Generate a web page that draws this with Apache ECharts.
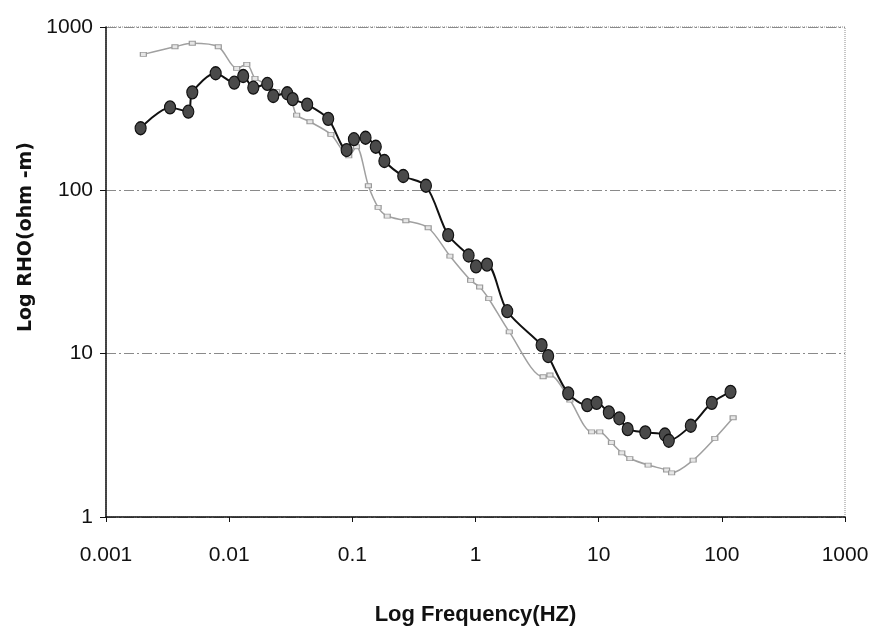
<!DOCTYPE html>
<html>
<head>
<meta charset="utf-8">
<script src="https://cdn.jsdelivr.net/npm/echarts@6/dist/echarts.min.js"></script>
<style>html,body{margin:0;padding:0;background:#fff}#c{width:872px;height:636px}</style>
</head>
<body>
<div id="c"></div>
<script>
// Black series (filled circles): frequency (Hz), apparent resistivity (ohm-m)
const blackFreq = [0.00191,0.00331,0.00466,0.00502,0.00777,0.0110,0.0130,0.0157,0.0204,0.0228,0.0296,0.0328,0.0430,0.0637,0.0899,0.103,0.128,0.155,0.182,0.259,0.396,0.600,0.879,1.01,1.24,1.81,3.44,3.89,5.66,8.07,9.62,12.1,14.7,17.2,23.9,34.5,37.1,56.0,82.9,117.6];
const blackRho  = [240,322,303,398,521,456,501,425,448,378,393,362,335,274,176.5,205.6,209.9,184.9,151.2,122.4,106.7,53.2,39.9,34.2,35.1,18.2,11.29,9.67,5.71,4.84,5.00,4.37,4.02,3.45,3.30,3.20,2.93,3.62,5.00,5.84];
// Gray series (small open markers)
const grayFreq = [0.00201,0.00363,0.00502,0.00816,0.0115,0.0139,0.0162,0.0195,0.0243,0.0316,0.0353,0.0453,0.0670,0.0935,0.108,0.135,0.162,0.192,0.272,0.413,0.620,0.913,1.08,1.28,1.88,3.54,4.02,5.84,8.76,10.2,12.7,15.4,17.9,25.2,35.6,39.1,58.5,87.7,123.5];
const grayRho  = [680,757,795,757,558,591,485,452,402,357,289,263,220,162.7,184.9,106.7,78.7,69.6,65.1,59.0,39.6,28.1,25.6,21.7,13.6,7.22,7.40,5.20,3.32,3.32,2.85,2.47,2.28,2.08,1.94,1.865,2.23,3.03,4.05];
const xTickValues = [0.001,0.01,0.1,1,10,100,1000];
const yTickValues = [1,10,100,1000];
const xTitle = 'Log Frequency(HZ)';
const yTitle = 'Log RHO(ohm -m)';

const pair = (xs, ys) => xs.map((x, i) => [x, ys[i]]);
const fmt = v => {
  const r = xTickValues.concat(yTickValues).find(t => Math.abs(Math.log10(t) - Math.log10(v)) < 1e-6);
  return r === undefined ? '' : String(r);
};
const labFont = {color:'#111', fontSize:21, fontFamily:"'Liberation Sans',Arial,sans-serif"};

const chart = echarts.init(document.getElementById('c'), null, {renderer:'canvas'});
chart.setOption({
  backgroundColor:'#fff',
  animation:false,
  grid:{left:106, right:27, top:27, bottom:119, show:true, borderColor:'#8c8c8c', borderWidth:1, borderType:'dotted', backgroundColor:'transparent'},
  xAxis:{
    type:'log', logBase:10, min:0.001, max:1000,
    name:xTitle, nameLocation:'middle', nameGap:87,
    nameTextStyle:{color:'#111', fontSize:22, fontWeight:'bold', fontFamily:"'Liberation Sans',Arial,sans-serif"},
    axisLine:{show:true, lineStyle:{color:'#111', width:1.5}},
    axisTick:{show:true, inside:false, length:5, lineStyle:{color:'#111'}},
    minorTick:{show:false},
    axisLabel:Object.assign({margin:28, formatter:fmt}, labFont),
    splitLine:{show:false}
  },
  yAxis:{
    type:'log', logBase:10, min:1, max:1000,
    name:yTitle, nameLocation:'middle', nameGap:63, nameRotate:90,
    nameTextStyle:{color:'#111', fontSize:19, fontWeight:'bold', fontFamily:"'DejaVu Sans',sans-serif", padding:[0,0,0,70]},
    axisLine:{show:true, lineStyle:{color:'#111', width:1.5}},
    axisTick:{show:true, inside:false, length:6, lineStyle:{color:'#111'}},
    axisLabel:Object.assign({margin:13, formatter:fmt}, labFont),
    splitLine:{show:true, lineStyle:{color:'#8a8a8a', width:1, type:[10,3,2,3]}}
  },
  series:[
    {
      name:'gray', type:'line', data:pair(grayFreq, grayRho), smooth:0.3,
      lineStyle:{color:'#a0a0a0', width:1.5},
      symbol:'rect', symbolSize:[6,4], z:2,
      itemStyle:{color:'#e6e6e6', borderColor:'#9a9a9a', borderWidth:1}
    },
    {
      name:'black', type:'line', data:pair(blackFreq, blackRho), smooth:0.3,
      lineStyle:{color:'#111', width:2},
      symbol:'circle', symbolSize:[11,13], z:3,
      itemStyle:{color:'#4a4a4a', borderColor:'#111', borderWidth:1.2}
    }
  ]
});
</script>
</body>
</html>
